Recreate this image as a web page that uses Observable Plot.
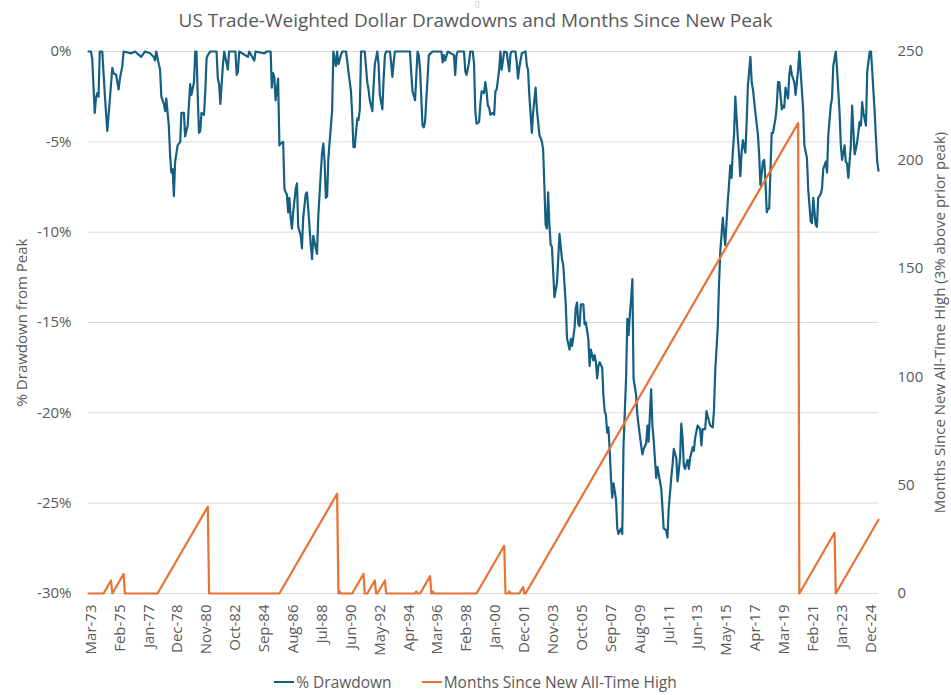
<!DOCTYPE html>
<html>
<head>
<meta charset="utf-8">
<script src="https://cdn.jsdelivr.net/npm/d3@7"></script>
<script src="https://cdn.jsdelivr.net/npm/@observablehq/plot@0.6"></script>
<style>
  body { margin: 0; background: #fff; font-family: "Open Sans", sans-serif; }
  #wrap { position: relative; width: 951px; height: 695px; overflow: hidden; }
  #stray { position: absolute; top: 0px; left: 475px; font-size: 7px; line-height: 8px; color: #bfbfbf; }
  #title { position: absolute; top: 0; left: 0; width: 951px; text-align: center; font-size: 19px; color: #595959; line-height: 40px; }
  #chart { position: absolute; left: 0; top: 40px; width: 951px; }
  #chart svg { position: absolute; left: 0; top: 0; }
  #legend { position: absolute; top: 669px; left: 0; width: 951px; display: flex; justify-content: center; gap: 30px; font-size: 15.5px; color: #595959; line-height: 26px; }
  .item { display: flex; align-items: center; }
  .sw { display: inline-block; width: 20px; height: 2.5px; margin-right: 2px; }
</style>
</head>
<body>
<div id="wrap">
  <div id="stray">[]</div>
  <div id="title"></div>
  <div id="chart"></div>
  <div id="legend"></div>
</div>
<script>
// ---------------- data ----------------
const titleText = "US Trade-Weighted Dollar Drawdowns and Months Since New Peak";
const seriesNames = ["% Drawdown", "Months Since New All-Time High"];
const seriesColors = ["#156082", "#E97132"];
const leftAxisTitle = "% Drawdown from Peak";
const rightAxisTitle = "Months Since New All-Time High (3% above prior peak)";
const startMonth = [1973, 2]; // Mar-1973 = month index 0
const xTickMonths = [0,23,46,69,92,115,138,161,184,207,230,253,276,299,322,345,368,391,414,437,460,483,506,529,552,575,598,621];
const leftTicks = [0,-5,-10,-15,-20,-25,-30];
const rightTicks = [0,50,100,150,200,250];

// [month index since Mar-73, % drawdown from peak]
const drawdownPoints = [[-2,0],[0,0],[1,-0.4],[3,-3.4],[4,-2.6],[5,-2.3],[6,-2.5],[7,0],[9,0],[11,-2.4],[13,-4.4],[15,-2.7],[17,-0.9],[18,-1.2],[20,-1.3],[22,-2.1],[23,-1.5],[25,-0.8],[26,0],[32,-0.1],[35,0],[40,-0.3],[43,0],[47,-0.1],[50,-0.3],[51,-0.5],[52,0],[54,-0.7],[55,-1.0],[56,-2.5],[58,-2.9],[59,-3.3],[60,-2.6],[62,-4.1],[63,-5.7],[64,-6.7],[65,-6.5],[66,-8.0],[67,-6.1],[69,-5.2],[71,-5.0],[72,-3.4],[74,-3.4],[75,-4.7],[77,-4.1],[79,-1.8],[80,-2.4],[82,-1.7],[83,0],[84,0],[85,-2.4],[86,-4.5],[87,-4.4],[88,-3.4],[90,-3.5],[91,-2.2],[92,-0.4],[93,-0.2],[95,0],[100,0],[101,-1.5],[102,-1.8],[103,-2.9],[105,-0.8],[106,0],[109,-1.0],[110,0],[115,0],[116,-1.3],[117,-1.1],[118,0],[125,-0.3],[126,0],[130,-0.5],[131,0],[138,-0.1],[140,0],[143,0],[144,-2.0],[145,-1.2],[146,-1.4],[147,-2.7],[149,-1.5],[150,-5.2],[151,-5.1],[153,-5.0],[154,-7.6],[155,-7.8],[156,-7.9],[157,-8.9],[158,-8.1],[159,-9.2],[160,-9.8],[161,-8.9],[163,-7.6],[164,-7.3],[165,-9.7],[167,-10.2],[168,-10.9],[169,-9.2],[171,-7.9],[172,-7.8],[173,-8.7],[175,-10.7],[176,-11.5],[177,-10.2],[179,-10.9],[180,-11.2],[181,-9.1],[183,-6.7],[184,-5.6],[185,-5.1],[186,-6.1],[187,-8.1],[188,-8.0],[189,-5.9],[191,-4.1],[192,-3.3],[193,0],[195,-0.8],[196,0],[197,-0.7],[199,-0.2],[200,0],[203,0],[204,-0.5],[205,-1.1],[207,-2.2],[208,-3.5],[209,-5.3],[210,-5.3],[212,-3.7],[213,-3.8],[214,-3.2],[215,0],[218,0],[220,-1.7],[221,-2.1],[222,-2.7],[224,-3.3],[225,-1.9],[226,-0.7],[228,0],[229,-0.7],[230,-2.4],[232,-3.2],[233,-1.5],[234,-0.2],[235,0],[238,0],[239,-0.7],[240,-1.4],[241,-0.6],[242,0],[254,0],[255,-1.2],[256,-2.2],[258,-2.7],[260,0],[261,-0.2],[262,-1.0],[264,-4.1],[265,-4.2],[266,-3.9],[268,-1.5],[269,-0.2],[272,0],[279,0],[280,-0.6],[281,-0.2],[282,-0.5],[284,0],[289,-0.2],[290,-1.3],[291,-0.2],[292,0],[297,0],[298,-1.1],[299,-1.3],[301,-0.6],[302,0],[304,0],[305,-0.7],[306,-3.3],[307,-4.0],[309,-3.9],[310,-2.9],[311,-2.2],[313,-2.3],[314,-1.7],[315,-2.2],[316,-3.0],[317,-3.1],[318,-3.5],[320,-3.4],[321,-3.5],[322,-2.2],[323,-2.1],[325,-1.0],[326,0],[327,-1.0],[328,-0.5],[329,0],[331,-0.05],[332,-0.6],[333,-1.1],[334,-0.1],[335,0],[338,0],[339,-0.6],[340,-1.5],[341,-0.9],[343,-0.1],[346,0],[347,-0.8],[348,-1.0],[349,-2.4],[351,-4.5],[352,-3.4],[354,-2.0],[355,-3.2],[357,-4.6],[359,-5.0],[360,-5.4],[361,-7.4],[362,-9.6],[363,-9.8],[364,-7.8],[365,-9.6],[366,-10.7],[367,-10.8],[369,-13.6],[371,-12.8],[373,-10.1],[375,-11.5],[376,-11.8],[378,-14.0],[379,-15.9],[381,-16.5],[382,-15.9],[383,-16.3],[385,-15.3],[386,-14.2],[387,-13.9],[388,-15.1],[389,-15.2],[390,-14.0],[392,-14.0],[393,-15.1],[394,-15.0],[396,-15.9],[397,-17.4],[398,-16.5],[400,-17.1],[401,-16.8],[402,-17.2],[403,-18.1],[404,-17.4],[405,-17.2],[407,-17.5],[408,-19.0],[409,-19.9],[410,-20.1],[411,-21.1],[412,-20.8],[413,-22.1],[414,-23.6],[415,-24.7],[416,-23.9],[418,-24.8],[419,-26.4],[420,-26.7],[422,-26.4],[423,-26.7],[424,-21.8],[426,-18.1],[427,-14.8],[428,-15.7],[429,-14.6],[430,-13.7],[431,-12.6],[432,-18.1],[434,-19.0],[435,-20.1],[436,-20.7],[438,-21.8],[439,-22.3],[440,-22.0],[442,-21.7],[443,-20.7],[444,-21.6],[446,-18.7],[447,-20.7],[448,-21.5],[450,-23.6],[451,-23.0],[452,-23.4],[454,-24.2],[455,-25.3],[456,-26.4],[458,-26.5],[459,-26.9],[460,-25.3],[462,-23.6],[463,-22.9],[464,-22.0],[466,-22.5],[467,-23.8],[468,-23.2],[469,-22.5],[470,-20.6],[471,-21.4],[472,-22.9],[473,-23.1],[475,-22.6],[476,-23.1],[477,-22.5],[479,-21.9],[480,-22.1],[481,-21.4],[483,-20.7],[484,-20.8],[485,-20.9],[486,-21.8],[487,-20.9],[489,-20.9],[490,-19.9],[491,-20.2],[493,-20.7],[495,-20.8],[496,-19.9],[497,-17.7],[499,-15.3],[500,-12.9],[501,-11.1],[503,-9.2],[504,-10.0],[505,-10.7],[507,-8.3],[508,-7.4],[509,-6.3],[510,-7.0],[511,-5.6],[512,-4.6],[513,-2.5],[515,-4.8],[516,-5.7],[517,-6.9],[518,-5.6],[519,-4.9],[521,-5.6],[522,-3.9],[523,-1.9],[525,-0.3],[526,-1.7],[527,-2.1],[529,-3.4],[531,-4.6],[532,-5.7],[533,-7.4],[535,-6.1],[536,-6.0],[537,-7.2],[538,-8.9],[539,-8.7],[540,-8.7],[542,-4.5],[543,-4.5],[545,-3.7],[546,-3.0],[547,-1.7],[548,-1.7],[550,-3.2],[551,-3.0],[552,-3.1],[553,-2.0],[555,-2.6],[556,-1.3],[557,-0.8],[558,-1.3],[560,-1.7],[561,-2.4],[563,-1.0],[564,0],[565,-1.1],[567,-3.2],[568,-5.2],[570,-5.9],[571,-7.6],[573,-9.4],[574,-9.5],[575,-8.1],[577,-9.6],[578,-9.7],[579,-8.1],[581,-7.9],[582,-7.6],[583,-6.5],[585,-6.1],[586,-6.7],[587,-4.6],[589,-3.0],[590,-2.6],[591,-0.8],[592,-0.4],[593,0],[594,-1.0],[596,-3.4],[597,-5.2],[598,-6.0],[600,-5.2],[601,-6.1],[602,-6.2],[603,-7.0],[605,-5.2],[606,-3.0],[608,-5.7],[609,-5.4],[610,-5.0],[612,-3.9],[613,-4.1],[614,-2.8],[615,-3.4],[617,-4.1],[618,-1.1],[620,0],[621,0],[622,-1.1],[624,-3.4],[625,-4.8],[626,-6.1],[627,-6.6]];

// [month index since Mar-73, months since new all-time high] (corner points of the counter)
const monthsSincePeakPoints = [[-2,0],[10,0],[16,6],[17,0],[26,9],[27,0],[53,0],[93,40],[94,0],[150,0],[196,46],[197,0],[198,1],[199,0],[208,0],[217,9],[218,0],[220,0],[226,6],[227,0],[228,0],[234,6],[235,0],[258,0],[259,1],[260,0],[262,0],[270,8],[271,0],[272,1],[273,0],[307,0],[329,22],[330,0],[332,0],[333,1],[334,0],[341,0],[344,3],[345,0],[346,0],[563,217],[564,0],[592,28],[593,0],[627,34]];

// ---------------- chart ----------------
const W = 951, H = 628, mL = 88, mR = 73, mT = 11, mB = 75;
const font = "'Open Sans', sans-serif";
const textColor = "#595959";
const start = new Date(Date.UTC(startMonth[0], startMonth[1], 1));
const toDate = m => d3.utcMonth.offset(start, m);
const xDomain = [toDate(-2), toDate(627)];
const dd = drawdownPoints.map(([m, v]) => ({date: toDate(m), value: v}));
const ms = monthsSincePeakPoints.map(([m, v]) => ({date: toDate(m), value: v}));
const fmt = d3.utcFormat("%b-%y");

const common = {
  width: W, height: H, marginLeft: mL, marginRight: mR, marginTop: mT, marginBottom: mB,
  style: {fontFamily: font, fontSize: "15px", color: textColor, background: "transparent", overflow: "visible"}
};

const p1 = Plot.plot({
  ...common,
  x: {type: "utc", domain: xDomain},
  y: {domain: [-30, 0]},
  marks: [
    Plot.gridY(leftTicks, {stroke: "#d9d9d9", strokeOpacity: 1, strokeWidth: 1}),
    Plot.axisX(xTickMonths.map(toDate), {tickFormat: fmt, tickRotate: -90, tickSize: 0, tickPadding: 11, label: null, fontSize: 15}),
    Plot.axisY(leftTicks, {anchor: "left", tickFormat: d => d + "%", tickSize: 0, tickPadding: 17, fontSize: 15,
      label: leftAxisTitle, labelAnchor: "center", labelArrow: "none", labelOffset: 72}),
    Plot.line(dd, {x: "date", y: "value", stroke: seriesColors[0], strokeWidth: 2.2, strokeLinejoin: "round"})
  ]
});

const p2 = Plot.plot({
  ...common,
  x: {type: "utc", domain: xDomain, axis: null},
  y: {domain: [0, 250]},
  marks: [
    Plot.axisY(rightTicks, {anchor: "right", tickSize: 0, tickPadding: 19, fontSize: 15,
      label: rightAxisTitle, labelAnchor: "center", labelArrow: "none", labelOffset: 66}),
    Plot.line(ms, {x: "date", y: "value", stroke: seriesColors[1], strokeWidth: 2.2, strokeLinejoin: "round"})
  ]
});

document.getElementById("chart").append(p1, p2);
document.getElementById("title").textContent = titleText;
const legend = document.getElementById("legend");
seriesNames.forEach((n, i) => {
  const it = document.createElement("div");
  it.className = "item";
  const sw = document.createElement("span");
  sw.className = "sw";
  sw.style.background = seriesColors[i];
  const t = document.createElement("span");
  t.textContent = n;
  it.append(sw, t);
  legend.append(it);
});
</script>
</body>
</html>
